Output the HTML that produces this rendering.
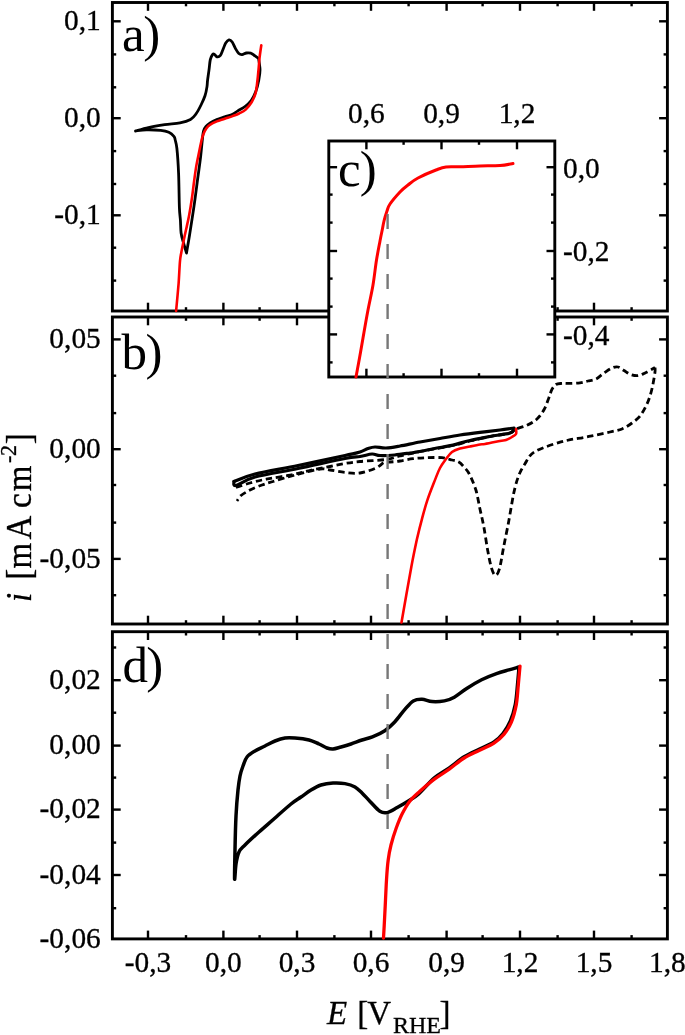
<!DOCTYPE html>
<html><head><meta charset="utf-8"><style>
html,body{margin:0;padding:0;background:#fff;}
svg{display:block;}
text{font-family:"Liberation Serif",serif;fill:#000;stroke:#000;stroke-width:0.3px;}
svg{will-change:transform;}
</style></head><body>
<svg width="685" height="1035" viewBox="0 0 685 1035">
<rect width="685" height="1035" fill="#fff"/>
<line x1="148.0" y1="2.5" x2="148.0" y2="10.8" stroke="#000" stroke-width="2.4"/>
<line x1="223.4" y1="2.5" x2="223.4" y2="10.8" stroke="#000" stroke-width="2.4"/>
<line x1="297.0" y1="2.5" x2="297.0" y2="10.8" stroke="#000" stroke-width="2.4"/>
<line x1="371.0" y1="2.5" x2="371.0" y2="10.8" stroke="#000" stroke-width="2.4"/>
<line x1="446.6" y1="2.5" x2="446.6" y2="10.8" stroke="#000" stroke-width="2.4"/>
<line x1="520.0" y1="2.5" x2="520.0" y2="10.8" stroke="#000" stroke-width="2.4"/>
<line x1="594.0" y1="2.5" x2="594.0" y2="10.8" stroke="#000" stroke-width="2.4"/>
<line x1="186.0" y1="2.5" x2="186.0" y2="6.3" stroke="#000" stroke-width="2.4"/>
<line x1="259.6" y1="2.5" x2="259.6" y2="6.3" stroke="#000" stroke-width="2.4"/>
<line x1="334.4" y1="2.5" x2="334.4" y2="6.3" stroke="#000" stroke-width="2.4"/>
<line x1="408.6" y1="2.5" x2="408.6" y2="6.3" stroke="#000" stroke-width="2.4"/>
<line x1="482.6" y1="2.5" x2="482.6" y2="6.3" stroke="#000" stroke-width="2.4"/>
<line x1="557.6" y1="2.5" x2="557.6" y2="6.3" stroke="#000" stroke-width="2.4"/>
<line x1="631.6" y1="2.5" x2="631.6" y2="6.3" stroke="#000" stroke-width="2.4"/>
<line x1="148.0" y1="311.0" x2="148.0" y2="302.7" stroke="#000" stroke-width="2.4"/>
<line x1="223.4" y1="311.0" x2="223.4" y2="302.7" stroke="#000" stroke-width="2.4"/>
<line x1="297.0" y1="311.0" x2="297.0" y2="302.7" stroke="#000" stroke-width="2.4"/>
<line x1="371.0" y1="311.0" x2="371.0" y2="302.7" stroke="#000" stroke-width="2.4"/>
<line x1="446.6" y1="311.0" x2="446.6" y2="302.7" stroke="#000" stroke-width="2.4"/>
<line x1="520.0" y1="311.0" x2="520.0" y2="302.7" stroke="#000" stroke-width="2.4"/>
<line x1="594.0" y1="311.0" x2="594.0" y2="302.7" stroke="#000" stroke-width="2.4"/>
<line x1="186.0" y1="311.0" x2="186.0" y2="307.2" stroke="#000" stroke-width="2.4"/>
<line x1="259.6" y1="311.0" x2="259.6" y2="307.2" stroke="#000" stroke-width="2.4"/>
<line x1="334.4" y1="311.0" x2="334.4" y2="307.2" stroke="#000" stroke-width="2.4"/>
<line x1="408.6" y1="311.0" x2="408.6" y2="307.2" stroke="#000" stroke-width="2.4"/>
<line x1="482.6" y1="311.0" x2="482.6" y2="307.2" stroke="#000" stroke-width="2.4"/>
<line x1="557.6" y1="311.0" x2="557.6" y2="307.2" stroke="#000" stroke-width="2.4"/>
<line x1="631.6" y1="311.0" x2="631.6" y2="307.2" stroke="#000" stroke-width="2.4"/>
<line x1="112.4" y1="21.3" x2="120.7" y2="21.3" stroke="#000" stroke-width="2.4"/>
<line x1="112.4" y1="118.2" x2="120.7" y2="118.2" stroke="#000" stroke-width="2.4"/>
<line x1="112.4" y1="215.3" x2="120.7" y2="215.3" stroke="#000" stroke-width="2.4"/>
<line x1="112.4" y1="54.4" x2="116.2" y2="54.4" stroke="#000" stroke-width="2.4"/>
<line x1="112.4" y1="87.3" x2="116.2" y2="87.3" stroke="#000" stroke-width="2.4"/>
<line x1="112.4" y1="151.1" x2="116.2" y2="151.1" stroke="#000" stroke-width="2.4"/>
<line x1="112.4" y1="184.0" x2="116.2" y2="184.0" stroke="#000" stroke-width="2.4"/>
<line x1="112.4" y1="247.7" x2="116.2" y2="247.7" stroke="#000" stroke-width="2.4"/>
<line x1="112.4" y1="280.6" x2="116.2" y2="280.6" stroke="#000" stroke-width="2.4"/>
<line x1="667.4" y1="21.3" x2="659.1" y2="21.3" stroke="#000" stroke-width="2.4"/>
<line x1="667.4" y1="118.2" x2="659.1" y2="118.2" stroke="#000" stroke-width="2.4"/>
<line x1="667.4" y1="215.3" x2="659.1" y2="215.3" stroke="#000" stroke-width="2.4"/>
<line x1="667.4" y1="54.4" x2="663.6" y2="54.4" stroke="#000" stroke-width="2.4"/>
<line x1="667.4" y1="87.3" x2="663.6" y2="87.3" stroke="#000" stroke-width="2.4"/>
<line x1="667.4" y1="151.1" x2="663.6" y2="151.1" stroke="#000" stroke-width="2.4"/>
<line x1="667.4" y1="184.0" x2="663.6" y2="184.0" stroke="#000" stroke-width="2.4"/>
<line x1="667.4" y1="247.7" x2="663.6" y2="247.7" stroke="#000" stroke-width="2.4"/>
<line x1="667.4" y1="280.6" x2="663.6" y2="280.6" stroke="#000" stroke-width="2.4"/>
<rect x="112.4" y="2.5" width="555.0" height="308.5" fill="none" stroke="#000" stroke-width="2.9"/>
<line x1="148.0" y1="317.0" x2="148.0" y2="325.3" stroke="#000" stroke-width="2.4"/>
<line x1="223.4" y1="317.0" x2="223.4" y2="325.3" stroke="#000" stroke-width="2.4"/>
<line x1="297.0" y1="317.0" x2="297.0" y2="325.3" stroke="#000" stroke-width="2.4"/>
<line x1="371.0" y1="317.0" x2="371.0" y2="325.3" stroke="#000" stroke-width="2.4"/>
<line x1="446.6" y1="317.0" x2="446.6" y2="325.3" stroke="#000" stroke-width="2.4"/>
<line x1="520.0" y1="317.0" x2="520.0" y2="325.3" stroke="#000" stroke-width="2.4"/>
<line x1="594.0" y1="317.0" x2="594.0" y2="325.3" stroke="#000" stroke-width="2.4"/>
<line x1="186.0" y1="317.0" x2="186.0" y2="320.8" stroke="#000" stroke-width="2.4"/>
<line x1="259.6" y1="317.0" x2="259.6" y2="320.8" stroke="#000" stroke-width="2.4"/>
<line x1="334.4" y1="317.0" x2="334.4" y2="320.8" stroke="#000" stroke-width="2.4"/>
<line x1="408.6" y1="317.0" x2="408.6" y2="320.8" stroke="#000" stroke-width="2.4"/>
<line x1="482.6" y1="317.0" x2="482.6" y2="320.8" stroke="#000" stroke-width="2.4"/>
<line x1="557.6" y1="317.0" x2="557.6" y2="320.8" stroke="#000" stroke-width="2.4"/>
<line x1="631.6" y1="317.0" x2="631.6" y2="320.8" stroke="#000" stroke-width="2.4"/>
<line x1="148.0" y1="624.0" x2="148.0" y2="615.7" stroke="#000" stroke-width="2.4"/>
<line x1="223.4" y1="624.0" x2="223.4" y2="615.7" stroke="#000" stroke-width="2.4"/>
<line x1="297.0" y1="624.0" x2="297.0" y2="615.7" stroke="#000" stroke-width="2.4"/>
<line x1="371.0" y1="624.0" x2="371.0" y2="615.7" stroke="#000" stroke-width="2.4"/>
<line x1="446.6" y1="624.0" x2="446.6" y2="615.7" stroke="#000" stroke-width="2.4"/>
<line x1="520.0" y1="624.0" x2="520.0" y2="615.7" stroke="#000" stroke-width="2.4"/>
<line x1="594.0" y1="624.0" x2="594.0" y2="615.7" stroke="#000" stroke-width="2.4"/>
<line x1="186.0" y1="624.0" x2="186.0" y2="620.2" stroke="#000" stroke-width="2.4"/>
<line x1="259.6" y1="624.0" x2="259.6" y2="620.2" stroke="#000" stroke-width="2.4"/>
<line x1="334.4" y1="624.0" x2="334.4" y2="620.2" stroke="#000" stroke-width="2.4"/>
<line x1="408.6" y1="624.0" x2="408.6" y2="620.2" stroke="#000" stroke-width="2.4"/>
<line x1="482.6" y1="624.0" x2="482.6" y2="620.2" stroke="#000" stroke-width="2.4"/>
<line x1="557.6" y1="624.0" x2="557.6" y2="620.2" stroke="#000" stroke-width="2.4"/>
<line x1="631.6" y1="624.0" x2="631.6" y2="620.2" stroke="#000" stroke-width="2.4"/>
<line x1="112.4" y1="339.4" x2="120.7" y2="339.4" stroke="#000" stroke-width="2.4"/>
<line x1="112.4" y1="449.2" x2="120.7" y2="449.2" stroke="#000" stroke-width="2.4"/>
<line x1="112.4" y1="558.9" x2="120.7" y2="558.9" stroke="#000" stroke-width="2.4"/>
<line x1="112.4" y1="375.7" x2="116.2" y2="375.7" stroke="#000" stroke-width="2.4"/>
<line x1="112.4" y1="413.1" x2="116.2" y2="413.1" stroke="#000" stroke-width="2.4"/>
<line x1="112.4" y1="485.0" x2="116.2" y2="485.0" stroke="#000" stroke-width="2.4"/>
<line x1="112.4" y1="522.6" x2="116.2" y2="522.6" stroke="#000" stroke-width="2.4"/>
<line x1="112.4" y1="595.2" x2="116.2" y2="595.2" stroke="#000" stroke-width="2.4"/>
<line x1="667.4" y1="339.4" x2="659.1" y2="339.4" stroke="#000" stroke-width="2.4"/>
<line x1="667.4" y1="449.2" x2="659.1" y2="449.2" stroke="#000" stroke-width="2.4"/>
<line x1="667.4" y1="558.9" x2="659.1" y2="558.9" stroke="#000" stroke-width="2.4"/>
<line x1="667.4" y1="375.7" x2="663.6" y2="375.7" stroke="#000" stroke-width="2.4"/>
<line x1="667.4" y1="413.1" x2="663.6" y2="413.1" stroke="#000" stroke-width="2.4"/>
<line x1="667.4" y1="485.0" x2="663.6" y2="485.0" stroke="#000" stroke-width="2.4"/>
<line x1="667.4" y1="522.6" x2="663.6" y2="522.6" stroke="#000" stroke-width="2.4"/>
<line x1="667.4" y1="595.2" x2="663.6" y2="595.2" stroke="#000" stroke-width="2.4"/>
<rect x="112.4" y="317.0" width="555.0" height="307.0" fill="none" stroke="#000" stroke-width="2.9"/>
<line x1="148.0" y1="631.7" x2="148.0" y2="640.0" stroke="#000" stroke-width="2.4"/>
<line x1="223.4" y1="631.7" x2="223.4" y2="640.0" stroke="#000" stroke-width="2.4"/>
<line x1="297.0" y1="631.7" x2="297.0" y2="640.0" stroke="#000" stroke-width="2.4"/>
<line x1="371.0" y1="631.7" x2="371.0" y2="640.0" stroke="#000" stroke-width="2.4"/>
<line x1="446.6" y1="631.7" x2="446.6" y2="640.0" stroke="#000" stroke-width="2.4"/>
<line x1="520.0" y1="631.7" x2="520.0" y2="640.0" stroke="#000" stroke-width="2.4"/>
<line x1="594.0" y1="631.7" x2="594.0" y2="640.0" stroke="#000" stroke-width="2.4"/>
<line x1="186.0" y1="631.7" x2="186.0" y2="635.5" stroke="#000" stroke-width="2.4"/>
<line x1="259.6" y1="631.7" x2="259.6" y2="635.5" stroke="#000" stroke-width="2.4"/>
<line x1="334.4" y1="631.7" x2="334.4" y2="635.5" stroke="#000" stroke-width="2.4"/>
<line x1="408.6" y1="631.7" x2="408.6" y2="635.5" stroke="#000" stroke-width="2.4"/>
<line x1="482.6" y1="631.7" x2="482.6" y2="635.5" stroke="#000" stroke-width="2.4"/>
<line x1="557.6" y1="631.7" x2="557.6" y2="635.5" stroke="#000" stroke-width="2.4"/>
<line x1="631.6" y1="631.7" x2="631.6" y2="635.5" stroke="#000" stroke-width="2.4"/>
<line x1="148.0" y1="938.9" x2="148.0" y2="930.6" stroke="#000" stroke-width="2.4"/>
<line x1="223.4" y1="938.9" x2="223.4" y2="930.6" stroke="#000" stroke-width="2.4"/>
<line x1="297.0" y1="938.9" x2="297.0" y2="930.6" stroke="#000" stroke-width="2.4"/>
<line x1="371.0" y1="938.9" x2="371.0" y2="930.6" stroke="#000" stroke-width="2.4"/>
<line x1="446.6" y1="938.9" x2="446.6" y2="930.6" stroke="#000" stroke-width="2.4"/>
<line x1="520.0" y1="938.9" x2="520.0" y2="930.6" stroke="#000" stroke-width="2.4"/>
<line x1="594.0" y1="938.9" x2="594.0" y2="930.6" stroke="#000" stroke-width="2.4"/>
<line x1="186.0" y1="938.9" x2="186.0" y2="935.1" stroke="#000" stroke-width="2.4"/>
<line x1="259.6" y1="938.9" x2="259.6" y2="935.1" stroke="#000" stroke-width="2.4"/>
<line x1="334.4" y1="938.9" x2="334.4" y2="935.1" stroke="#000" stroke-width="2.4"/>
<line x1="408.6" y1="938.9" x2="408.6" y2="935.1" stroke="#000" stroke-width="2.4"/>
<line x1="482.6" y1="938.9" x2="482.6" y2="935.1" stroke="#000" stroke-width="2.4"/>
<line x1="557.6" y1="938.9" x2="557.6" y2="935.1" stroke="#000" stroke-width="2.4"/>
<line x1="631.6" y1="938.9" x2="631.6" y2="935.1" stroke="#000" stroke-width="2.4"/>
<line x1="112.4" y1="680.2" x2="120.7" y2="680.2" stroke="#000" stroke-width="2.4"/>
<line x1="112.4" y1="745.6" x2="120.7" y2="745.6" stroke="#000" stroke-width="2.4"/>
<line x1="112.4" y1="809.6" x2="120.7" y2="809.6" stroke="#000" stroke-width="2.4"/>
<line x1="112.4" y1="875.0" x2="120.7" y2="875.0" stroke="#000" stroke-width="2.4"/>
<line x1="112.4" y1="647.5" x2="116.2" y2="647.5" stroke="#000" stroke-width="2.4"/>
<line x1="112.4" y1="712.7" x2="116.2" y2="712.7" stroke="#000" stroke-width="2.4"/>
<line x1="112.4" y1="777.6" x2="116.2" y2="777.6" stroke="#000" stroke-width="2.4"/>
<line x1="112.4" y1="842.6" x2="116.2" y2="842.6" stroke="#000" stroke-width="2.4"/>
<line x1="112.4" y1="908.2" x2="116.2" y2="908.2" stroke="#000" stroke-width="2.4"/>
<line x1="667.4" y1="680.2" x2="659.1" y2="680.2" stroke="#000" stroke-width="2.4"/>
<line x1="667.4" y1="745.6" x2="659.1" y2="745.6" stroke="#000" stroke-width="2.4"/>
<line x1="667.4" y1="809.6" x2="659.1" y2="809.6" stroke="#000" stroke-width="2.4"/>
<line x1="667.4" y1="875.0" x2="659.1" y2="875.0" stroke="#000" stroke-width="2.4"/>
<line x1="667.4" y1="647.5" x2="663.6" y2="647.5" stroke="#000" stroke-width="2.4"/>
<line x1="667.4" y1="712.7" x2="663.6" y2="712.7" stroke="#000" stroke-width="2.4"/>
<line x1="667.4" y1="777.6" x2="663.6" y2="777.6" stroke="#000" stroke-width="2.4"/>
<line x1="667.4" y1="842.6" x2="663.6" y2="842.6" stroke="#000" stroke-width="2.4"/>
<line x1="667.4" y1="908.2" x2="663.6" y2="908.2" stroke="#000" stroke-width="2.4"/>
<rect x="112.4" y="631.7" width="555.0" height="307.19999999999993" fill="none" stroke="#000" stroke-width="2.9"/>
<path d="M135.5,131.0 C137.7,130.4 143.5,128.6 148.4,127.5 C153.3,126.4 159.4,125.4 164.7,124.6 C170.0,123.8 175.7,123.7 180.0,122.8 C184.3,121.9 187.9,120.8 190.5,119.4 C193.1,118.0 194.1,116.6 195.8,114.2 C197.6,111.8 199.5,108.1 201.0,105.0 C202.5,101.9 204.0,98.9 205.0,95.8 C206.0,92.7 206.6,89.2 207.0,86.6 C207.4,84.0 207.2,83.0 207.6,80.0 C208.0,77.0 208.8,71.7 209.2,68.3 C209.6,64.9 209.8,61.9 210.3,59.6 C210.9,57.3 211.8,55.5 212.5,54.6 C213.2,53.7 213.5,53.7 214.2,54.1 C214.9,54.5 215.9,56.5 216.9,56.8 C217.9,57.1 219.2,56.9 220.2,55.7 C221.2,54.5 222.0,51.8 222.9,49.7 C223.8,47.6 224.7,44.7 225.7,43.1 C226.7,41.5 227.9,40.1 229.0,39.9 C230.1,39.7 231.1,40.5 232.2,42.0 C233.3,43.5 234.4,46.7 235.5,48.6 C236.6,50.5 237.7,52.5 238.8,53.5 C239.9,54.5 240.8,54.7 242.1,54.6 C243.4,54.5 245.0,53.2 246.5,53.0 C248.0,52.8 249.5,52.8 250.9,53.2 C252.3,53.7 253.4,54.9 254.7,55.7 C256.0,56.6 257.9,57.9 258.5,58.3 C258.8,60.1 259.9,65.8 260.0,69.4 C260.1,73.0 259.5,76.2 258.8,80.0 C258.1,83.8 256.9,88.6 255.6,92.0 C254.3,95.4 253.0,98.1 251.2,100.5 C249.4,102.9 247.2,104.8 245.0,106.5 C242.8,108.2 239.9,109.6 237.8,110.9 C235.7,112.2 234.8,113.3 232.6,114.3 C230.4,115.3 227.3,115.9 224.7,116.8 C222.1,117.7 219.2,118.6 216.8,119.6 C214.4,120.6 212.0,121.8 210.2,123.0 C208.4,124.2 207.1,125.2 206.0,126.5 C204.9,127.8 204.1,128.8 203.5,131.0 C202.9,133.2 202.8,135.7 202.3,140.0 C201.8,144.3 201.4,149.8 200.6,156.9 C199.8,164.0 198.3,173.9 197.2,182.3 C196.1,190.8 195.1,198.9 193.8,207.6 C192.5,216.3 190.8,227.1 189.6,234.7 C188.4,242.3 187.0,249.9 186.5,253.0 C186.0,251.2 184.2,245.5 183.3,242.2 C182.4,238.9 181.6,236.7 181.1,233.0 C180.6,229.3 180.7,224.2 180.4,220.0 C180.1,215.8 179.7,215.3 179.4,207.6 C179.1,199.9 179.0,183.7 178.6,173.8 C178.2,164.0 177.5,154.1 176.9,148.5 C176.3,142.9 175.7,142.0 175.2,140.0 C174.7,138.0 175.0,137.6 173.9,136.3 C172.8,135.0 171.0,133.3 168.8,132.3 C166.6,131.3 164.4,130.8 160.7,130.4 C157.0,130.0 150.6,129.7 146.4,129.8 C142.2,129.9 137.3,130.8 135.5,131.0" fill="none" stroke="#000" stroke-width="2.8" stroke-linejoin="round" stroke-linecap="round"/>
<path d="M261.3,45.3 C261.0,47.3 260.1,53.3 259.6,57.4 C259.1,61.5 258.9,66.2 258.5,70.0 C258.1,73.8 258.0,76.2 257.5,80.0 C257.0,83.8 256.6,89.4 255.6,93.1 C254.6,96.8 253.2,99.5 251.6,102.3 C249.9,105.0 247.8,107.7 245.7,109.6 C243.6,111.5 241.3,112.4 239.1,113.5 C236.9,114.6 235.0,115.2 232.6,116.1 C230.2,117.0 227.3,117.9 224.7,118.8 C222.1,119.7 219.2,120.4 216.8,121.4 C214.4,122.4 211.9,123.5 210.2,124.7 C208.4,125.9 207.5,126.8 206.3,128.6 C205.1,130.3 203.8,133.1 203.0,135.2 C202.2,137.3 202.0,138.4 201.4,141.0 C200.8,143.6 200.1,146.9 199.3,151.0 C198.5,155.1 197.3,160.2 196.4,165.4 C195.5,170.6 194.7,176.7 194.0,182.0 C193.3,187.3 192.9,191.3 192.1,197.0 C191.3,202.7 190.0,210.8 189.0,216.0 C188.0,221.2 187.2,224.5 186.3,228.5 C185.4,232.5 184.6,236.1 183.8,240.0 C183.0,243.9 182.0,248.5 181.4,252.0 C180.8,255.5 180.5,255.7 180.0,261.0 C179.5,266.3 179.2,275.4 178.6,283.7 C177.9,292.0 176.5,306.4 176.1,311.0" fill="none" stroke="#ff0000" stroke-width="2.6" stroke-linejoin="round" stroke-linecap="round"/>
<path d="M234.0,481.5 C237.5,480.2 244.3,476.7 255.0,474.0 C265.7,471.3 283.0,468.6 298.0,465.5 C313.0,462.4 334.7,457.8 345.0,455.5 C355.3,453.2 356.2,453.2 360.0,452.0 C363.8,450.8 365.5,449.3 368.0,448.5 C370.5,447.7 372.0,447.1 375.0,447.0 C378.0,446.9 381.8,448.2 386.0,448.0 C390.2,447.8 394.3,447.0 400.0,446.0 C405.7,445.0 413.3,443.2 420.0,442.0 C426.7,440.8 433.3,439.7 440.0,438.5 C446.7,437.3 453.3,436.0 460.0,435.0 C466.7,434.0 473.3,433.2 480.0,432.4 C486.7,431.6 494.3,430.7 500.0,430.0 C505.7,429.3 511.7,428.3 514.0,428.0" fill="none" stroke="#000" stroke-width="3.2" stroke-linejoin="round" stroke-linecap="round"/>
<path d="M514.0,429.0 C513.3,429.7 514.0,431.8 510.0,433.0 C506.0,434.2 496.7,435.2 490.0,436.5 C483.3,437.8 476.2,439.1 470.0,440.5 C463.8,441.9 458.0,443.8 453.0,445.0 C448.0,446.2 444.9,446.6 440.0,447.5 C435.1,448.4 428.8,449.8 423.8,450.7 C418.8,451.6 414.9,452.3 410.0,453.0 C405.1,453.7 399.6,454.6 394.6,455.0 C389.6,455.4 383.8,455.7 380.0,455.5 C376.2,455.3 375.3,453.8 372.0,454.0 C368.7,454.2 364.5,455.8 360.0,456.5 C355.5,457.2 355.3,456.5 345.0,458.5 C334.7,460.5 313.0,465.4 298.0,468.5 C283.0,471.6 265.3,474.2 255.0,477.0 C244.7,479.8 239.5,484.8 236.0,485.5 C232.5,486.2 234.3,482.2 234.0,481.5" fill="none" stroke="#000" stroke-width="3.2" stroke-linejoin="round" stroke-linecap="round"/>
<path d="M236.0,487.5 C238.3,486.8 245.7,484.2 250.0,483.0 C254.3,481.8 258.2,480.8 262.0,480.0 C265.8,479.2 268.7,478.8 273.0,478.0 C277.3,477.2 283.3,476.4 288.0,475.5 C292.7,474.6 296.7,473.6 301.0,472.6 C305.3,471.6 309.2,470.5 314.0,469.5 C318.8,468.5 324.8,467.5 330.0,466.5 C335.2,465.5 340.0,464.3 345.0,463.5 C350.0,462.7 353.2,462.2 360.0,461.5 C366.8,460.8 379.3,460.4 386.0,459.5 C392.7,458.6 394.3,457.3 400.0,456.0 C405.7,454.7 411.2,453.2 420.0,451.5 C428.8,449.8 444.7,447.2 453.0,445.5 C461.3,443.8 463.8,442.5 470.0,441.0 C476.2,439.5 483.3,437.8 490.0,436.5 C496.7,435.2 505.7,434.2 510.0,433.0 C514.3,431.8 513.2,430.3 516.0,429.0 C518.8,427.7 523.5,426.9 527.0,425.2 C530.5,423.5 534.1,421.7 537.0,419.0 C539.9,416.3 542.4,412.6 544.4,409.0 C546.4,405.4 547.7,400.7 549.0,397.4 C550.3,394.1 550.8,391.3 552.0,389.2 C553.2,387.1 554.4,385.5 556.0,384.5 C557.6,383.5 559.6,383.6 561.9,383.4 C564.2,383.2 567.0,383.5 570.0,383.4 C573.0,383.3 577.0,383.2 580.0,382.8 C583.0,382.4 585.3,381.6 588.0,381.0 C590.7,380.4 593.3,380.3 596.0,379.0 C598.7,377.7 601.3,374.8 604.0,373.0 C606.7,371.2 609.7,369.0 612.0,368.0 C614.3,367.0 616.0,366.6 618.0,367.0 C620.0,367.4 622.0,369.3 624.0,370.5 C626.0,371.7 627.7,373.3 630.0,374.2 C632.3,375.1 635.3,375.9 638.0,375.6 C640.7,375.3 643.2,373.7 646.0,372.4 C648.8,371.1 653.5,368.4 655.0,367.6" fill="none" stroke="#000" stroke-width="2.8" stroke-linejoin="round" stroke-linecap="butt" stroke-dasharray="6.5 3.8"/>
<path d="M655.0,367.6 C655.0,368.3 655.3,369.3 655.0,372.0 C654.7,374.7 653.8,380.0 653.0,384.0 C652.2,388.0 651.2,392.3 650.0,396.0 C648.8,399.7 647.7,402.7 646.0,406.0 C644.3,409.3 642.3,413.2 640.0,416.0 C637.7,418.8 635.0,420.8 632.0,423.0 C629.0,425.2 625.7,427.5 622.0,429.0 C618.3,430.5 614.3,431.0 610.0,432.0 C605.7,433.0 600.4,434.1 596.0,435.0 C591.6,435.9 587.7,436.7 583.4,437.5 C579.1,438.3 574.4,438.8 570.3,439.7 C566.2,440.6 562.7,441.4 558.6,442.6 C554.5,443.8 549.4,445.5 545.5,447.0 C541.6,448.5 538.0,449.8 535.3,451.4 C532.6,453.0 531.1,454.4 529.4,456.5 C527.7,458.6 526.5,461.4 525.0,463.8 C523.5,466.2 521.9,468.7 520.7,471.1 C519.5,473.5 518.7,475.5 517.7,478.4 C516.7,481.3 515.6,485.2 514.8,488.6 C514.0,492.0 513.7,493.0 512.7,498.5 C511.7,504.0 510.2,513.2 508.7,521.4 C507.2,529.6 505.0,539.8 503.5,547.7 C502.0,555.6 500.8,564.1 499.5,568.7 C498.2,573.3 496.9,575.3 495.6,575.3 C494.3,575.3 493.0,572.9 491.7,568.7 C490.4,564.6 489.0,557.4 487.7,550.4 C486.4,543.4 485.1,533.7 483.8,526.7 C482.5,519.7 481.1,514.4 479.8,508.3 C478.5,502.2 477.6,495.7 475.9,490.0 C474.1,484.3 471.3,477.8 469.3,474.0 C467.3,470.2 465.8,469.0 464.0,467.0 C462.2,465.0 460.8,463.2 458.8,462.0 C456.8,460.8 454.8,460.7 452.0,460.0 C449.2,459.3 446.2,458.1 442.0,457.7 C437.8,457.3 431.8,457.5 427.0,457.7 C422.2,457.9 417.5,458.1 413.0,458.7 C408.5,459.2 403.8,460.4 400.0,461.0 C396.2,461.6 392.7,461.8 390.0,462.0 C387.3,462.2 386.3,461.5 384.0,462.5 C381.7,463.5 380.0,466.2 376.0,468.0 C372.0,469.8 365.2,472.2 360.0,473.0 C354.8,473.8 350.0,473.0 345.0,472.5 C340.0,472.0 334.2,470.6 330.0,470.0 C325.8,469.4 324.8,468.4 320.0,469.0 C315.2,469.6 306.3,472.2 301.0,473.5 C295.7,474.8 292.7,475.7 288.0,477.0 C283.3,478.3 277.3,480.2 273.0,481.5 C268.7,482.8 265.8,483.6 262.0,485.0 C258.2,486.4 253.5,488.2 250.0,490.0 C246.5,491.8 243.2,493.7 241.0,495.5 C238.8,497.3 237.7,500.1 237.0,501.0" fill="none" stroke="#000" stroke-width="2.8" stroke-linejoin="round" stroke-linecap="butt" stroke-dasharray="6.5 3.8"/>
<path d="M516.0,429.0 C516.0,429.8 516.7,432.7 516.0,434.0 C515.3,435.3 513.7,436.0 512.0,437.0 C510.3,438.0 508.0,439.3 506.0,440.0 C504.0,440.7 503.5,440.3 500.0,441.0 C496.5,441.7 488.3,443.4 485.0,444.0 C481.7,444.6 482.5,444.1 480.0,444.5 C477.5,444.9 473.3,445.8 470.0,446.5 C466.7,447.2 463.0,447.6 460.0,448.5 C457.0,449.4 454.3,450.2 452.0,452.0 C449.7,453.8 448.0,456.3 446.0,459.0 C444.0,461.7 441.8,464.6 440.0,468.0 C438.2,471.4 437.3,474.0 435.2,479.4 C433.1,484.8 429.5,493.8 427.3,500.4 C425.1,507.0 423.8,512.2 422.0,518.8 C420.2,525.4 418.6,531.9 416.8,539.8 C415.1,547.7 413.2,556.8 411.5,566.0 C409.8,575.2 408.0,585.6 406.3,595.0 C404.6,604.4 402.3,617.9 401.5,622.5" fill="none" stroke="#ff0000" stroke-width="2.6" stroke-linejoin="round" stroke-linecap="round"/>
<path d="M519.0,667.0 C517.3,667.5 512.6,668.8 508.9,669.9 C505.1,671.0 501.1,672.0 496.5,673.6 C491.9,675.2 486.6,677.3 481.6,679.8 C476.6,682.3 471.2,685.6 466.7,688.5 C462.1,691.4 458.0,695.1 454.3,697.2 C450.6,699.3 448.1,700.2 444.4,700.9 C440.7,701.6 435.7,701.9 432.0,701.6 C428.3,701.3 425.1,699.3 422.0,699.2 C418.9,699.1 416.2,699.2 413.3,700.9 C410.4,702.6 407.8,706.1 404.7,709.6 C401.6,713.1 398.0,718.5 394.7,722.0 C391.4,725.5 388.5,728.2 384.8,730.7 C381.1,733.2 376.2,735.4 372.4,736.9 C368.6,738.4 365.6,738.8 362.0,740.0 C358.4,741.2 354.5,742.8 351.0,744.0 C347.5,745.2 344.0,746.2 341.0,747.0 C338.0,747.8 335.3,748.8 333.0,749.0 C330.7,749.2 329.3,748.8 327.0,748.0 C324.7,747.2 322.0,745.3 319.0,744.0 C316.0,742.7 313.0,741.0 309.0,740.0 C305.0,739.0 299.0,738.3 295.0,738.0 C291.0,737.7 288.3,737.5 285.0,738.0 C281.7,738.5 278.3,739.7 275.0,741.0 C271.7,742.3 268.3,744.3 265.0,746.0 C261.7,747.7 258.0,749.2 255.0,751.0 C252.0,752.8 249.0,754.5 247.0,757.0 C245.0,759.5 244.2,762.8 243.0,766.0 C241.8,769.2 240.8,772.0 240.0,776.0 C239.2,780.0 238.7,783.3 238.0,790.0 C237.3,796.7 236.5,806.0 236.0,816.0 C235.5,826.0 235.2,839.5 235.0,850.0 C234.8,860.5 234.4,876.7 234.6,879.0 C234.8,881.3 235.3,868.5 236.0,864.0 C236.7,859.5 237.5,855.2 239.0,852.0 C240.5,848.8 241.7,848.3 245.0,845.0 C248.3,841.7 254.0,836.5 259.0,832.0 C264.0,827.5 269.7,822.7 275.0,818.0 C280.3,813.3 286.7,807.5 291.0,804.0 C295.3,800.5 297.7,799.3 301.0,797.0 C304.3,794.7 307.7,792.0 311.0,790.0 C314.3,788.0 317.3,786.2 321.0,785.0 C324.7,783.8 329.0,783.2 333.0,783.0 C337.0,782.8 341.3,782.9 345.0,783.6 C348.7,784.3 352.2,785.4 355.0,787.0 C357.8,788.6 359.5,790.6 362.0,793.0 C364.5,795.4 367.0,798.4 370.0,801.4 C373.0,804.4 377.0,809.4 379.9,811.3 C382.8,813.2 384.4,813.2 387.3,812.6 C390.2,812.0 393.5,809.7 397.2,807.6 C400.9,805.5 406.1,802.4 409.6,800.2 C413.1,798.0 414.2,797.9 418.3,794.2 C422.4,790.5 429.2,782.3 434.4,777.9 C439.6,773.5 444.3,771.4 449.3,767.9 C454.3,764.4 459.2,759.9 464.2,756.8 C469.2,753.7 474.1,751.8 479.1,749.3 C484.1,746.8 490.0,744.6 494.0,741.9 C498.0,739.2 500.5,736.7 503.2,733.2 C505.9,729.7 508.4,725.8 510.4,721.0 C512.4,716.2 514.1,710.6 515.3,704.6 C516.5,698.6 516.9,691.1 517.5,684.8 C518.1,678.5 518.8,670.0 519.0,667.0" fill="none" stroke="#000" stroke-width="3.5" stroke-linejoin="round" stroke-linecap="round"/>
<path d="M520.0,666.2 C519.7,669.3 518.9,678.4 518.3,684.8 C517.7,691.2 517.4,698.4 516.3,704.6 C515.1,710.8 513.5,717.0 511.4,722.0 C509.3,727.0 506.8,730.9 503.9,734.4 C501.0,737.9 498.1,740.4 494.0,743.1 C489.9,745.8 484.1,748.0 479.1,750.5 C474.1,753.0 469.2,754.9 464.2,758.0 C459.2,761.1 454.3,765.6 449.3,769.1 C444.3,772.6 439.3,775.4 434.4,779.1 C429.4,782.8 423.7,787.8 419.6,791.5 C415.5,795.2 412.5,797.7 409.6,801.4 C406.7,805.1 404.5,809.2 402.2,813.8 C399.9,818.3 397.9,823.5 396.0,828.7 C394.1,833.9 392.3,839.8 391.0,845.0 C389.7,850.2 388.9,854.2 388.2,860.0 C387.4,865.8 386.9,873.3 386.5,880.0 C386.1,886.7 385.8,893.3 385.5,900.0 C385.2,906.7 384.8,913.7 384.5,920.0 C384.2,926.3 383.7,935.0 383.5,938.0" fill="none" stroke="#ff0000" stroke-width="3.3" stroke-linejoin="round" stroke-linecap="round"/>
<rect x="328.8" y="141.0" width="225.99999999999994" height="236.0" fill="#fff" stroke="none"/>
<line x1="366.4" y1="141.0" x2="366.4" y2="149.3" stroke="#000" stroke-width="2.4"/>
<line x1="366.4" y1="377.0" x2="366.4" y2="368.7" stroke="#000" stroke-width="2.4"/>
<line x1="441.5" y1="141.0" x2="441.5" y2="149.3" stroke="#000" stroke-width="2.4"/>
<line x1="441.5" y1="377.0" x2="441.5" y2="368.7" stroke="#000" stroke-width="2.4"/>
<line x1="517.0" y1="141.0" x2="517.0" y2="149.3" stroke="#000" stroke-width="2.4"/>
<line x1="517.0" y1="377.0" x2="517.0" y2="368.7" stroke="#000" stroke-width="2.4"/>
<line x1="403.6" y1="141.0" x2="403.6" y2="144.8" stroke="#000" stroke-width="2.4"/>
<line x1="403.6" y1="377.0" x2="403.6" y2="373.2" stroke="#000" stroke-width="2.4"/>
<line x1="479.0" y1="141.0" x2="479.0" y2="144.8" stroke="#000" stroke-width="2.4"/>
<line x1="479.0" y1="377.0" x2="479.0" y2="373.2" stroke="#000" stroke-width="2.4"/>
<line x1="328.8" y1="167.2" x2="337.1" y2="167.2" stroke="#000" stroke-width="2.4"/>
<line x1="554.8" y1="167.2" x2="546.5" y2="167.2" stroke="#000" stroke-width="2.4"/>
<line x1="328.8" y1="251.0" x2="337.1" y2="251.0" stroke="#000" stroke-width="2.4"/>
<line x1="554.8" y1="251.0" x2="546.5" y2="251.0" stroke="#000" stroke-width="2.4"/>
<line x1="328.8" y1="334.4" x2="337.1" y2="334.4" stroke="#000" stroke-width="2.4"/>
<line x1="554.8" y1="334.4" x2="546.5" y2="334.4" stroke="#000" stroke-width="2.4"/>
<line x1="328.8" y1="194.6" x2="332.6" y2="194.6" stroke="#000" stroke-width="2.4"/>
<line x1="554.8" y1="194.6" x2="551.0" y2="194.6" stroke="#000" stroke-width="2.4"/>
<line x1="328.8" y1="222.6" x2="332.6" y2="222.6" stroke="#000" stroke-width="2.4"/>
<line x1="554.8" y1="222.6" x2="551.0" y2="222.6" stroke="#000" stroke-width="2.4"/>
<line x1="328.8" y1="278.6" x2="332.6" y2="278.6" stroke="#000" stroke-width="2.4"/>
<line x1="554.8" y1="278.6" x2="551.0" y2="278.6" stroke="#000" stroke-width="2.4"/>
<line x1="328.8" y1="306.6" x2="332.6" y2="306.6" stroke="#000" stroke-width="2.4"/>
<line x1="554.8" y1="306.6" x2="551.0" y2="306.6" stroke="#000" stroke-width="2.4"/>
<line x1="328.8" y1="362.4" x2="332.6" y2="362.4" stroke="#000" stroke-width="2.4"/>
<line x1="554.8" y1="362.4" x2="551.0" y2="362.4" stroke="#000" stroke-width="2.4"/>
<rect x="328.8" y="141.0" width="225.99999999999994" height="236.0" fill="none" stroke="#000" stroke-width="2.9"/>
<path d="M513.0,163.6 C510.8,163.9 505.5,165.1 500.0,165.5 C494.5,165.9 486.7,165.8 480.0,166.0 C473.3,166.2 465.7,166.6 460.0,166.8 C454.3,167.0 450.0,166.5 446.0,167.0 C442.0,167.5 440.7,168.2 436.0,170.0 C431.3,171.8 422.7,175.5 418.0,178.0 C413.3,180.5 411.0,182.7 408.0,185.0 C405.0,187.3 403.0,188.8 400.0,192.0 C397.0,195.2 392.2,200.8 390.0,204.0 C387.8,207.2 388.0,208.2 387.0,211.0 C386.0,213.8 384.8,217.7 384.0,221.0 C383.2,224.3 382.7,227.7 382.0,231.0 C381.3,234.3 380.9,236.2 380.0,241.0 C379.1,245.8 377.7,252.7 376.5,260.0 C375.3,267.3 374.4,276.7 373.0,285.0 C371.6,293.3 369.7,301.2 368.0,310.0 C366.3,318.8 364.4,330.0 363.0,338.0 C361.6,346.0 360.7,351.5 359.5,358.0 C358.3,364.5 356.6,373.8 356.0,377.0" fill="none" stroke="#ff0000" stroke-width="3.0" stroke-linejoin="round" stroke-linecap="round"/>
<line x1="387.6" y1="214" x2="387.6" y2="829" stroke="#777" stroke-width="2.4" stroke-dasharray="15 15"/>
<text transform="translate(100.8,30.1) scale(1.05,1.08)" font-size="28" text-anchor="end">0,1</text>
<text transform="translate(100.8,127.0) scale(1.05,1.08)" font-size="28" text-anchor="end">0,0</text>
<text transform="translate(100.8,224.1) scale(1.05,1.08)" font-size="28" text-anchor="end">-0,1</text>
<text transform="translate(100.8,348.2) scale(1.05,1.08)" font-size="28" text-anchor="end">0,05</text>
<text transform="translate(100.8,458.0) scale(1.05,1.08)" font-size="28" text-anchor="end">0,00</text>
<text transform="translate(100.8,567.7) scale(1.05,1.08)" font-size="28" text-anchor="end">-0,05</text>
<text transform="translate(100.8,689.0) scale(1.05,1.08)" font-size="28" text-anchor="end">0,02</text>
<text transform="translate(100.8,754.4) scale(1.05,1.08)" font-size="28" text-anchor="end">0,00</text>
<text transform="translate(100.8,818.4) scale(1.05,1.08)" font-size="28" text-anchor="end">-0,02</text>
<text transform="translate(100.8,883.8) scale(1.05,1.08)" font-size="28" text-anchor="end">-0,04</text>
<text transform="translate(100.8,947.7) scale(1.05,1.08)" font-size="28" text-anchor="end">-0,06</text>
<text transform="translate(148.0,971.8) scale(1.05,1.08)" font-size="28" text-anchor="middle">-0,3</text>
<text transform="translate(223.4,971.8) scale(1.05,1.08)" font-size="28" text-anchor="middle">0,0</text>
<text transform="translate(297.0,971.8) scale(1.05,1.08)" font-size="28" text-anchor="middle">0,3</text>
<text transform="translate(371.0,971.8) scale(1.05,1.08)" font-size="28" text-anchor="middle">0,6</text>
<text transform="translate(446.6,971.8) scale(1.05,1.08)" font-size="28" text-anchor="middle">0,9</text>
<text transform="translate(520.0,971.8) scale(1.05,1.08)" font-size="28" text-anchor="middle">1,2</text>
<text transform="translate(594.0,971.8) scale(1.05,1.08)" font-size="28" text-anchor="middle">1,5</text>
<text transform="translate(667.4,971.8) scale(1.05,1.08)" font-size="28" text-anchor="middle">1,8</text>
<text transform="translate(366.4,123.2) scale(1.05,1.08)" font-size="28" text-anchor="middle">0,6</text>
<text transform="translate(441.5,123.2) scale(1.05,1.08)" font-size="28" text-anchor="middle">0,9</text>
<text transform="translate(517.0,123.2) scale(1.05,1.08)" font-size="28" text-anchor="middle">1,2</text>
<text transform="translate(563.0,177.5) scale(1.05,1.08)" font-size="28" text-anchor="start">0,0</text>
<text transform="translate(563.0,261.3) scale(1.05,1.08)" font-size="28" text-anchor="start">-0,2</text>
<text transform="translate(563.0,344.7) scale(1.05,1.08)" font-size="28" text-anchor="start">-0,4</text>
<text x="122" y="51" font-size="51" style="stroke-width:0">a<tspan dx="-1.3">)</tspan></text>
<text x="121.5" y="369" font-size="51" style="stroke-width:0">b<tspan dx="-1.5">)</tspan></text>
<text x="122.5" y="682" font-size="51" style="stroke-width:0">d<tspan dx="-1.8">)</tspan></text>
<text x="338" y="185.5" font-size="51" style="stroke-width:0">c<tspan dx="-1">)</tspan></text>
<text y="1023.5" font-size="33"><tspan x="327" font-style="italic">E</tspan><tspan x="357.2">[</tspan><tspan x="367.2">V</tspan><tspan x="393" font-size="24" dy="9">RHE</tspan><tspan x="439.6" dy="-9">]</tspan></text>
<text transform="translate(30.5,602) rotate(-90) scale(1,1.06)" font-size="33"><tspan x="0" font-style="italic">i</tspan><tspan x="22.3">[</tspan><tspan x="33.4">m</tspan><tspan x="62.5">A</tspan><tspan x="93.9">c</tspan><tspan x="110.7">m</tspan><tspan x="139.1" y="-14" font-size="22">-</tspan><tspan x="145.9" y="-14" font-size="22">2</tspan><tspan x="157.8" y="0">]</tspan></text>
</svg>
</body></html>
